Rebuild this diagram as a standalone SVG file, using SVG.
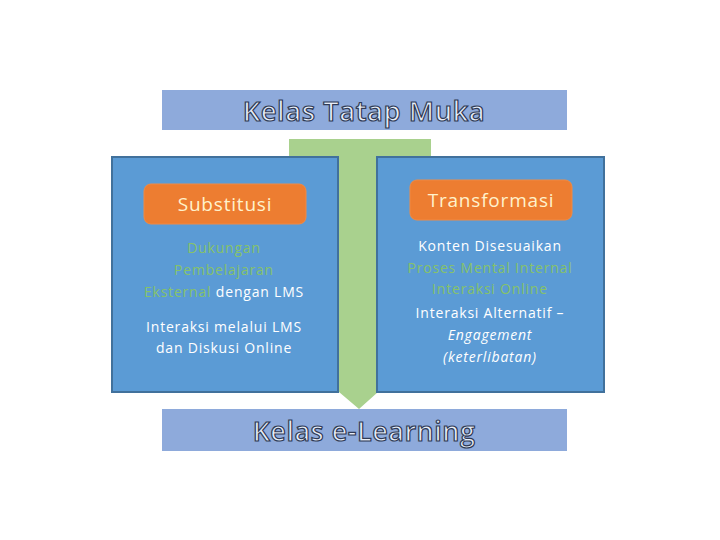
<svg xmlns="http://www.w3.org/2000/svg" width="720" height="540" viewBox="0 0 720 540">
<style>
.bar{fill:#8eaadb}
.box{fill:#5b9bd5;stroke:#41719c;stroke-width:2}
.pill{fill:#ed7d31;stroke:#f08a44;stroke-width:1}
.title{font-family:"Open Sans",Lato,sans-serif;font-weight:600;fill:#e8eef8;stroke:#2f3a55;stroke-width:1.2;text-anchor:middle;letter-spacing:0.5px}
.pt{font-family:"Open Sans",Lato,sans-serif;font-size:19px;fill:#fff2cc;text-anchor:middle;letter-spacing:0.8px}
.t{font-family:"Open Sans",Lato,sans-serif;font-size:14px;fill:#ffffff;text-anchor:middle;letter-spacing:0.8px}
.g{fill:#86c26a}
.i{font-style:italic}
</style>
<g id="arrow">
<path d="M289 139 H431 V160 H378 V392 L359 409 L339 392 V160 H289 Z" fill="#a9d18e"/>
</g>
<g id="top">
<rect class="bar" x="162" y="90" width="405" height="40"/>
<text class="title" x="364" y="121" font-size="27.5">Kelas Tatap Muka</text>
</g>
<g id="left">
<rect class="box" x="112" y="157" width="226" height="235"/>
<rect class="pill" x="144" y="184" width="162" height="40" rx="7"/>
<text class="pt" x="225" y="211">Substitusi</text>
<text class="t g" x="224" y="253">Dukungan</text>
<text class="t g" x="224" y="275">Pembelajaran</text>
<text class="t" x="224" y="297"><tspan class="g">Eksternal</tspan> dengan LMS</text>
<text class="t" x="224" y="332">Interaksi melalui LMS</text>
<text class="t" x="224" y="353">dan Diskusi Online</text>
</g>
<g id="right">
<rect class="box" x="377" y="157" width="227" height="235"/>
<rect class="pill" x="410" y="180" width="162" height="40" rx="7"/>
<text class="pt" x="491" y="207">Transformasi</text>
<text class="t" x="490" y="251">Konten Disesuaikan</text>
<text class="t g" x="490" y="273">Proses Mental Internal</text>
<text class="t g" x="490" y="294">Interaksi Online</text>
<text class="t" x="490" y="318">Interaksi Alternatif –</text>
<text class="t i" x="490" y="340">Engagement</text>
<text class="t i" x="490" y="362">(keterlibatan)</text>
</g>
<g id="bottom">
<rect class="bar" x="162" y="409" width="405" height="42"/>
<text class="title" x="364" y="441" font-size="27">Kelas e-Learning</text>
</g>
</svg>
